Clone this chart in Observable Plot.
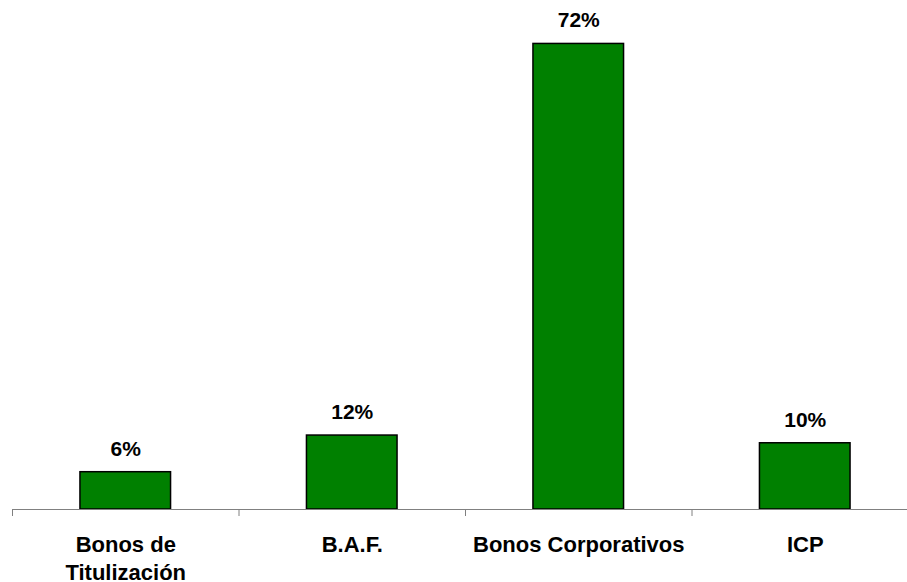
<!DOCTYPE html>
<html>
<head>
<meta charset="utf-8">
<script src="https://cdn.jsdelivr.net/npm/d3@7"></script>
<script src="https://cdn.jsdelivr.net/npm/@observablehq/plot@0.6"></script>
<style>
  html, body { margin: 0; padding: 0; background: #fff; overflow: hidden; }
  #chart svg { display: block; overflow: visible; }
</style>
</head>
<body>
<div id="chart"></div>
<script>
const categories = ["Bonos de\nTitulización", "B.A.F.", "Bonos Corporativos", "ICP"];
const values = [5.8, 11.5, 72.4, 10.3];
const valueLabels = ["6%", "12%", "72%", "10%"];

const data = categories.map((c, i) => ({category: c, value: values[i], label: valueLabels[i], i}));

const chart = Plot.plot({
  width: 907,
  height: 582,
  marginLeft: 12,
  marginRight: -11,
  marginTop: 10,
  marginBottom: 73,
  style: {fontFamily: "'Liberation Sans', Arial, sans-serif", background: "#fff", overflow: "visible"},
  x: {domain: [0, categories.length], axis: null},
  y: {domain: [0, 77.6], axis: null},
  marks: [
    Plot.rectY(data, {
      x1: d => d.i + 0.3,
      x2: d => d.i + 0.7,
      y: "value",
      fill: "#008000",
      stroke: "#000",
      strokeWidth: 1.5
    }),
    Plot.ruleY([0], {stroke: "#808080", strokeWidth: 1}),
    Plot.axisX({
      ticks: d3.range(categories.length + 1),
      tickSize: 7,
      tickFormat: () => "",
      stroke: "#808080"
    }),
    Plot.text(data, {
      x: d => d.i + 0.5,
      y: "value",
      text: "label",
      lineAnchor: "bottom",
      dy: -16.7,
      fontSize: 21,
      fontWeight: "bold",
      fill: "#000"
    }),
    Plot.text(data, {
      x: d => d.i + 0.5,
      y: 0,
      text: "category",
      lineAnchor: "top",
      lineHeight: 1.24,
      dy: 23.5,
      fontSize: 22,
      fontWeight: "bold",
      fill: "#000"
    })
  ]
});
document.getElementById("chart").appendChild(chart);
</script>
</body>
</html>
